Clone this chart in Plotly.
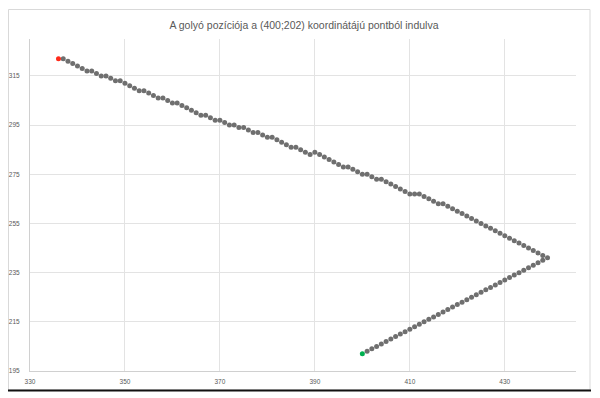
import plotly.graph_objects as go

# Ball positions in time order
pos_x = [400, 401, 402, 403, 404, 405, 406, 407, 408, 409,
         410, 411, 412, 413, 414, 415, 416, 417, 418, 419,
         420, 421, 422, 423, 424, 425, 426, 427, 428, 429,
         430, 431, 432, 433, 434, 435, 436, 437, 438, 439,
         438, 437, 436, 435, 434, 433, 432, 431, 430, 429,
         428, 427, 426, 425, 424, 423, 422, 421, 420, 419,
         418, 417, 416, 415, 414, 413, 412, 411, 410, 409,
         408, 407, 406, 405, 404, 403, 402, 401, 400, 399,
         398, 397, 396, 395, 394, 393, 392, 391, 390, 389,
         388, 387, 386, 385, 384, 383, 382, 381, 380, 379,
         378, 377, 376, 375, 374, 373, 372, 371, 370, 369,
         368, 367, 366, 365, 364, 363, 362, 361, 360, 359,
         358, 357, 356, 355, 354, 353, 352, 351, 350, 349,
         348, 347, 346, 345, 344, 343, 342, 341, 340, 339,
         338, 337, 336]
pos_y = [202, 203, 204, 205, 206, 207, 208, 209, 210, 211,
         212, 213, 214, 215, 216, 217, 218, 219, 220, 221,
         222, 223, 224, 225, 226, 227, 228, 229, 230, 231,
         232, 233, 234, 235, 236, 237, 238, 239, 240, 241,
         242, 243, 244, 245, 246, 247, 248, 249, 250, 251,
         252, 253, 254, 255, 256, 257, 258, 259, 260, 261,
         262, 263, 263, 264, 265, 266, 267, 267, 267, 268,
         269, 270, 271, 272, 273, 273, 274, 275, 275, 276,
         277, 278, 278, 279, 280, 281, 282, 283, 284, 283,
         284, 285, 286, 286, 287, 288, 289, 290, 290, 291,
         292, 292, 293, 294, 294, 295, 295, 296, 297, 297,
         298, 299, 299, 300, 301, 302, 303, 304, 304, 305,
         306, 306, 307, 308, 309, 309, 310, 311, 312, 313,
         313, 314, 315, 315, 316, 317, 317, 318, 319, 320,
         321, 322, 322]

x_ticks = [330, 350, 370, 390, 410, 430]
y_ticks = [195, 215, 235, 255, 275, 295, 315]
x_range = [330, 445]
y_range = [195, 330]
title_text = "A golyó pozíciója a (400;202) koordinátájú pontból indulva"

# page body has an 8px margin, so the figure is laid out 8px up/left
OFF = 8
W, H = 600, 398
ML, MT = 30 - OFF, 39 - OFF
MR, MB = W - (576 - OFF), H - (371 - OFF)
pw, ph = W - ML - MR, H - MT - MB


def px2paper_x(px):
    return (px - OFF - ML) / pw


def px2paper_y(py):
    return (H - MB - (py - OFF)) / ph


fig = go.Figure()
fig.add_trace(go.Scatter(
    x=pos_x[1:-1], y=pos_y[1:-1], mode="markers",
    marker=dict(size=5, color="#6f6f6f", line=dict(width=0)),
    showlegend=False, hoverinfo="x+y"))
fig.add_trace(go.Scatter(
    x=pos_x[:1], y=pos_y[:1], mode="markers",
    marker=dict(size=5, color="#00b050", line=dict(width=0)),
    showlegend=False))
fig.add_trace(go.Scatter(
    x=pos_x[-1:], y=pos_y[-1:], mode="markers",
    marker=dict(size=5, color="#ff2a1a", line=dict(width=0)),
    showlegend=False))

axis_font = dict(family="Liberation Sans, Arial, sans-serif", size=6.5, color="#595959")
fig.update_xaxes(range=x_range, tickvals=x_ticks, ticktext=[str(v) for v in x_ticks],
                 showgrid=True, gridcolor="#e3e3e3", gridwidth=1,
                 showline=True, linecolor="#d0d0d0", linewidth=1,
                 zeroline=False, ticks="", tickfont=axis_font,
                 ticklabelstandoff=4, automargin=False, fixedrange=True)
fig.update_yaxes(range=y_range, tickvals=y_ticks, ticktext=[str(v) for v in y_ticks],
                 showgrid=True, gridcolor="#e3e3e3", gridwidth=1,
                 showline=True, linecolor="#d0d0d0", linewidth=1,
                 zeroline=False, ticks="", tickfont=axis_font,
                 ticklabelstandoff=8, automargin=False, fixedrange=True)

fig.update_layout(
    width=W, height=H,
    margin=dict(l=ML, r=MR, t=MT, b=MB, pad=0, autoexpand=False),
    paper_bgcolor="white", plot_bgcolor="white",
    title=dict(text=title_text, x=0.5 - 4 / W, xanchor="center",
               y=1 - (25 - OFF) / H, yanchor="middle",
               font=dict(family="Liberation Sans, Arial, sans-serif", size=10.5, color="#595959")),
    shapes=[
        dict(type="rect", xref="paper", yref="paper",
             x0=px2paper_x(8.5), x1=px2paper_x(590),
             y0=px2paper_y(390), y1=px2paper_y(9.5),
             line=dict(color="#d9d9d9", width=1), fillcolor="rgba(0,0,0,0)", layer="below"),
        dict(type="line", xref="paper", yref="paper",
             x0=px2paper_x(8), x1=px2paper_x(591),
             y0=px2paper_y(390.5), y1=px2paper_y(390.5),
             line=dict(color="#111111", width=2)),
    ],
)

fig.write_html("out.html")
